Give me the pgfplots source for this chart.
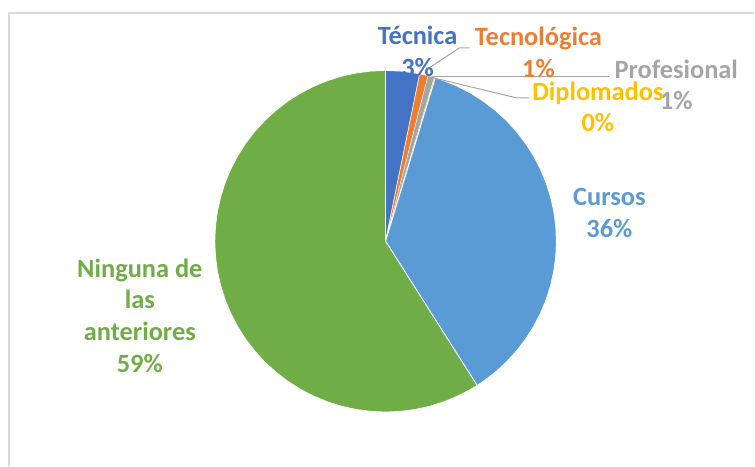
\documentclass[border=0pt]{standalone}
\usepackage{pgfplots}
\pgfplotsset{compat=1.18}
\usepackage{fontspec}
\setmainfont{Carlito}
\definecolor{cTec}{HTML}{4472C4}
\definecolor{cTecno}{HTML}{ED7D31}
\definecolor{cProf}{HTML}{A5A5A5}
\definecolor{cDipl}{HTML}{FFC000}
\definecolor{cCur}{HTML}{5B9BD5}
\definecolor{cNin}{HTML}{70AD47}
\definecolor{frame}{HTML}{D9D9D9}
\definecolor{lead}{HTML}{A6A6A6}
\tikzset{lbl/.style={font=\fontsize{26.5}{32}\selectfont\bfseries, align=center, inner sep=0pt}}
\begin{document}
\begin{tikzpicture}
\begin{axis}[
  scale only axis, width=755bp, height=466bp,
  xmin=-386, xmax=369, ymin=-224.5, ymax=241.5,
  hide axis, clip=false,
  every axis plot/.append style={draw=white, line width=0.8bp, line join=round},
]
\path (rel axis cs:0,0) rectangle (rel axis cs:1,1);
% frame
\draw[frame, line width=1.6bp] (axis cs:-377,-224.5) -- (axis cs:-377,228.5) -- (axis cs:369,228.5);
% Pie: angles from shares (Tecnica 3.2, Tecnologica 0.8, Profesional 0.6, Diplomados 0.1, Cursos 36.3, Ninguna 59.0)
\addplot[data cs=polar, fill=cTec] coordinates {(0,0) (90,171) (85,171) (80,171) (78.48,171) (0,0)};
\addplot[data cs=polar, fill=cTecno, line width=0.4bp] coordinates {(0,0) (78.48,171) (75.60,171) (0,0)};
\addplot[data cs=polar, fill=cProf, line width=0.4bp] coordinates {(0,0) (75.60,171) (73.44,171) (0,0)};
\addplot[data cs=polar, fill=cDipl, line width=0.2bp] coordinates {(0,0) (73.44,171) (73.08,171) (0,0)};
\addplot[data cs=polar, fill=cCur] coordinates {(0,0) (73.08,171) (70,171) (65,171) (60,171) (55,171) (50,171) (45,171) (40,171) (35,171) (30,171) (25,171) (20,171) (15,171) (10,171) (5,171) (0,171) (-5,171) (-10,171) (-15,171) (-20,171) (-25,171) (-30,171) (-35,171) (-40,171) (-45,171) (-50,171) (-55,171) (-57.6,171) (0,0)};
\addplot[data cs=polar, fill=cNin] coordinates {(0,0) (-57.6,171) (-60,171) (-65,171) (-70,171) (-75,171) (-80,171) (-85,171) (-90,171) (-95,171) (-100,171) (-105,171) (-110,171) (-115,171) (-120,171) (-125,171) (-130,171) (-135,171) (-140,171) (-145,171) (-150,171) (-155,171) (-160,171) (-165,171) (-170,171) (-175,171) (-180,171) (-185,171) (-190,171) (-195,171) (-200,171) (-205,171) (-210,171) (-215,171) (-220,171) (-225,171) (-230,171) (-235,171) (-240,171) (-245,171) (-250,171) (-255,171) (-260,171) (-265,171) (-270,171) (0,0)};
% leader lines
\draw[lead, line width=1bp] (axis cs:84,193.5) -- (axis cs:74,193.5) -- (axis cs:42,172.5);
\draw[lead, line width=1bp] (axis cs:224,164.5) -- (axis cs:46,164.5);
\draw[lead, line width=1bp] (axis cs:144,143.5) -- (axis cs:131,143.5) -- (axis cs:44,164.5);
% labels
\node[lbl, text=cTec] at (axis cs:32,190) {Técnica\\3\%};
\node[lbl, text=cTecno] at (axis cs:153,189.5) {Tecnológica\\1\%};
\node[lbl, text=cProf] at (axis cs:291,156.5) {Profesional\\1\%};
\node[lbl, text=cDipl] at (axis cs:212.5,134.5) {Diplomados\\0\%};
\node[lbl, text=cCur] at (axis cs:224,28) {Cursos\\36\%};
\node[lbl, text=cNin] at (axis cs:-246,-74.5) {Ninguna de\\las\\anteriores\\59\%};
\end{axis}
\end{tikzpicture}
\end{document}
